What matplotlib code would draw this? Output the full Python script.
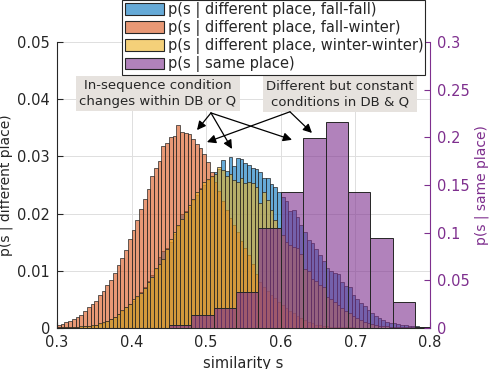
import numpy as np
import matplotlib
matplotlib.use('Agg')
import matplotlib.pyplot as plt
from matplotlib.colors import to_rgba
from matplotlib.patches import Patch

plt.rcParams['font.family'] = 'DejaVu Sans'

# histogram bins (similarity s)
fine_edges = np.linspace(0.3, 0.8, 101)          # 0.005 wide bins, different place
coarse_edges = np.linspace(0.45, 0.81, 13)       # 0.03 wide bins, same place

# p(s | different place, fall-fall)
p_fall_fall = [
    0.0001, 0.0001, 0.0001, 0.0001, 0.0002, 0.0002, 0.0002, 0.0003, 0.0003, 0.0004,
    0.0005, 0.0007, 0.0009, 0.0012, 0.0015, 0.0019, 0.0024, 0.0030, 0.0036, 0.0042,
    0.0048, 0.0055, 0.0063, 0.0072, 0.0082, 0.0093, 0.0103, 0.0125, 0.0134, 0.0140,
    0.0150, 0.0165, 0.0178, 0.0200, 0.0205, 0.0212, 0.0224, 0.0232, 0.0245, 0.0250,
    0.0258, 0.0264, 0.0272, 0.0278, 0.0294, 0.0274, 0.0299, 0.0284, 0.0297, 0.0296,
    0.0288, 0.0285, 0.0280, 0.0278, 0.0272, 0.0262, 0.0262, 0.0252, 0.0247, 0.0238,
    0.0229, 0.0222, 0.0205, 0.0206, 0.0194, 0.0180, 0.0168, 0.0154, 0.0148, 0.0138,
    0.0128, 0.0118, 0.0105, 0.0100, 0.0097, 0.0094, 0.0080, 0.0074, 0.0071, 0.0058,
    0.0050, 0.0044, 0.0038, 0.0032, 0.0026, 0.0021, 0.0017, 0.0014, 0.0011, 0.0009,
    0.0008, 0.0007, 0.0006, 0.0005, 0.0004, 0.0003, 0.0003, 0.0002, 0.0002, 0.0001,
]

# p(s | different place, fall-winter)
p_fall_winter = [
    0.0005, 0.0007, 0.0010, 0.0013, 0.0016, 0.0019, 0.0023, 0.0029, 0.0036, 0.0042,
    0.0048, 0.0057, 0.0065, 0.0076, 0.0084, 0.0096, 0.0110, 0.0123, 0.0137, 0.0155,
    0.0172, 0.0188, 0.0208, 0.0226, 0.0243, 0.0265, 0.0280, 0.0292, 0.0318, 0.0324,
    0.0334, 0.0336, 0.0355, 0.0342, 0.0341, 0.0340, 0.0330, 0.0322, 0.0314, 0.0305,
    0.0290, 0.0273, 0.0255, 0.0240, 0.0222, 0.0206, 0.0192, 0.0180, 0.0168, 0.0152,
    0.0140, 0.0128, 0.0112, 0.0095, 0.0080, 0.0072, 0.0065, 0.0058, 0.0052, 0.0046,
    0.0040, 0.0035, 0.0030, 0.0026, 0.0021, 0.0017, 0.0014, 0.0011, 0.0008, 0.0006,
    0.0005, 0.0004, 0.0003, 0.0002, 0.0002, 0.0001, 0.0001, 0.0001, 0.0001, 0.0001,
    0, 0, 0, 0, 0, 0, 0, 0, 0, 0,
    0, 0, 0, 0, 0, 0, 0, 0, 0, 0,
]

# p(s | different place, winter-winter)
p_winter_winter = [
    0.0001, 0.0001, 0.0001, 0.0002, 0.0002, 0.0002, 0.0003, 0.0003, 0.0004, 0.0005,
    0.0006, 0.0008, 0.0010, 0.0013, 0.0016, 0.0020, 0.0025, 0.0031, 0.0037, 0.0042,
    0.0050, 0.0056, 0.0062, 0.0070, 0.0080, 0.0090, 0.0105, 0.0112, 0.0120, 0.0138,
    0.0155, 0.0168, 0.0180, 0.0190, 0.0203, 0.0215, 0.0226, 0.0238, 0.0243, 0.0255,
    0.0260, 0.0266, 0.0270, 0.0282, 0.0276, 0.0266, 0.0269, 0.0259, 0.0256, 0.0262,
    0.0253, 0.0256, 0.0253, 0.0247, 0.0218, 0.0238, 0.0224, 0.0206, 0.0189, 0.0174,
    0.0163, 0.0150, 0.0145, 0.0142, 0.0139, 0.0130, 0.0104, 0.0100, 0.0086, 0.0082,
    0.0075, 0.0072, 0.0054, 0.0050, 0.0046, 0.0041, 0.0035, 0.0030, 0.0026, 0.0021,
    0.0017, 0.0014, 0.0011, 0.0008, 0.0007, 0.0005, 0.0004, 0.0003, 0.0003, 0.0002,
    0.0002, 0.0002, 0.0001, 0.0001, 0.0001, 0.0001, 0.0001, 0.0001, 0.0001, 0.0001,
]

# p(s | same place)
p_same_place = [0.003, 0.0136, 0.021, 0.038, 0.105, 0.143, 0.199, 0.216, 0.143, 0.094, 0.027, 0.001]

labels = [
    'p(s | different place, fall-fall)',
    'p(s | different place, fall-winter)',
    'p(s | different place, winter-winter)',
    'p(s | same place)',
]

left_ticks = [0, 0.01, 0.02, 0.03, 0.04, 0.05]
left_ticklabels = ['0', '0.01', '0.02', '0.03', '0.04', '0.05']
right_ticks = [0, 0.05, 0.1, 0.15, 0.2, 0.25, 0.3]
right_ticklabels = ['0', '0.05', '0.1', '0.15', '0.2', '0.25', '0.3']
x_ticks = [0.3, 0.4, 0.5, 0.6, 0.7, 0.8]
x_ticklabels = ['0.3', '0.4', '0.5', '0.6', '0.7', '0.8']

# matlab default colours
c_blue = (0.0, 0.447, 0.741)
c_orange = (0.85, 0.325, 0.098)
c_yellow = (0.929, 0.694, 0.125)
c_purple = (0.494, 0.184, 0.556)
txt_col = '#262626'
edge_col = (0.15, 0.15, 0.15)
alpha = 0.6

fig = plt.figure(figsize=(4.9, 3.69), dpi=100)
ax = fig.add_axes([0.1163, 0.1111, 0.7612, 0.7751])
ax2 = ax.twinx()

handles = []
w_fine = fine_edges[1] - fine_edges[0]
for vals, col in [(p_fall_fall, c_blue), (p_fall_winter, c_orange), (p_winter_winter, c_yellow)]:
    ax.bar(fine_edges[:-1], vals, width=w_fine, align='edge',
           facecolor=to_rgba(col, alpha), edgecolor=edge_col, linewidth=0.5)
    handles.append(Patch(facecolor=to_rgba(col, alpha), edgecolor=edge_col, linewidth=0.8))

w_coarse = coarse_edges[1] - coarse_edges[0]
ax2.bar(coarse_edges[:-1], p_same_place, width=w_coarse, align='edge',
        facecolor=to_rgba(c_purple, alpha), edgecolor=edge_col, linewidth=0.7)
handles.append(Patch(facecolor=to_rgba(c_purple, alpha), edgecolor=edge_col, linewidth=0.8))

# left axis
ax.set_xlim(0.3, 0.8)
ax.set_ylim(0, 0.05)
ax.set_xticks(x_ticks)
ax.set_xticklabels(x_ticklabels)
ax.set_yticks(left_ticks)
ax.set_yticklabels(left_ticklabels)
ax.set_axisbelow(True)
ax.grid(True, color='#dedede', linewidth=0.7)
ax.tick_params(direction='in', length=4, width=0.8, colors=txt_col, labelsize=10.5, pad=5)
ax.tick_params(axis='y', right=False)
ax.set_xlabel('similarity s', fontsize=10.5, color=txt_col)
ax.set_ylabel('p(s | different place)', fontsize=10, color=txt_col)
ax.yaxis.set_label_coords(-0.118, 0.5)
for sp in ['left', 'bottom']:
    ax.spines[sp].set_color(txt_col)
    ax.spines[sp].set_linewidth(0.8)
ax.spines['top'].set_visible(False)
ax.spines['right'].set_visible(False)

# right axis
ax2.set_ylim(0, 0.3)
ax2.set_yticks(right_ticks)
ax2.set_yticklabels(right_ticklabels)
ax2.tick_params(direction='in', length=4, width=0.8, colors=c_purple, labelsize=10.5, pad=5)
ax2.set_ylabel('p(s | same place)', fontsize=10, color=c_purple)
ax2.yaxis.set_label_coords(1.12, 0.5)
ax2.spines['right'].set_color(c_purple)
ax2.spines['right'].set_linewidth(0.8)
for sp in ['left', 'top', 'bottom']:
    ax2.spines[sp].set_visible(False)

# annotations (in left-axis data coordinates)
box = dict(boxstyle='square,pad=0.25', facecolor='#e6e2de', edgecolor='none')
arr = dict(arrowstyle='-|>', color='k', lw=0.9, mutation_scale=13, shrinkA=0, shrinkB=0)

ax2.text(0.4354, 0.0410, 'In-sequence condition\nchanges within DB or Q', transform=ax.transData,
         ha='center', va='center', fontsize=9.5, color=txt_col, bbox=box, linespacing=1.25)
ax2.text(0.6794, 0.0409, 'Different but constant\nconditions in DB & Q', transform=ax.transData,
         ha='center', va='center', fontsize=9.5, color=txt_col, bbox=box, linespacing=1.25)

origin1 = (0.5064, 0.0376)
origin2 = (0.6123, 0.0378)
for tip in [(0.4877, 0.0346), (0.5346, 0.0313), (0.6150, 0.0329)]:
    ax2.annotate('', xy=tip, xytext=origin1, xycoords=ax.transData, textcoords=ax.transData,
                 arrowprops=arr)
for tip in [(0.6418, 0.0341), (0.5010, 0.0325)]:
    ax2.annotate('', xy=tip, xytext=origin2, xycoords=ax.transData, textcoords=ax.transData,
                 arrowprops=arr)

leg = ax2.legend(handles, labels, loc='upper right', bbox_to_anchor=(0.988, 1.148),
                 fontsize=10.5, frameon=True, fancybox=False, framealpha=1,
                 handlelength=2.7, handleheight=0.85, handletextpad=0.25,
                 labelspacing=0.15, borderpad=0.15, borderaxespad=0)
leg.get_frame().set_edgecolor(txt_col)
leg.get_frame().set_linewidth(0.8)
for t in leg.get_texts():
    t.set_color(txt_col)

fig.savefig('out.png', dpi=100)
